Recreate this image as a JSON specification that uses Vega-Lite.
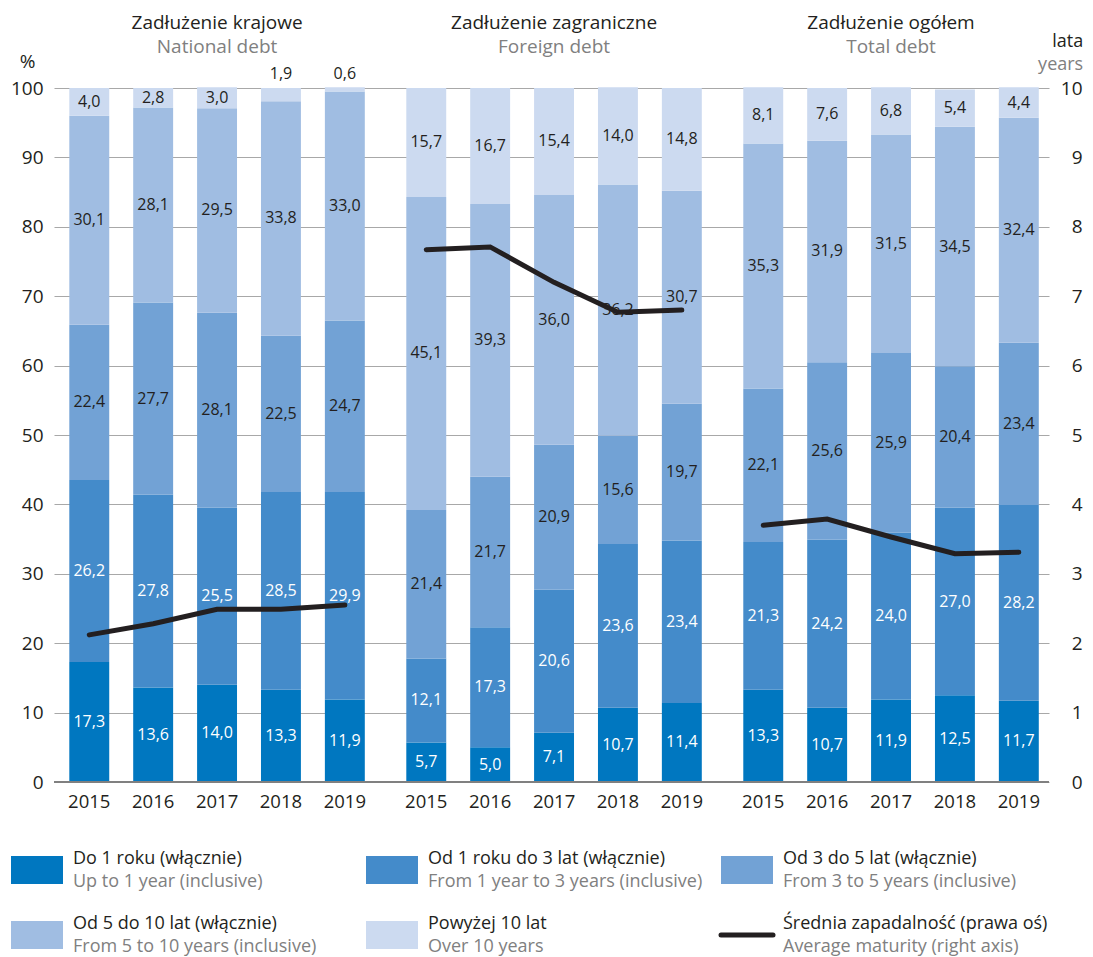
{
  "$schema": "https://vega.github.io/schema/vega-lite/v6.json",
  "background": "white",
  "padding": {"left": 10, "top": 14, "right": 5, "bottom": 5},
  "spacing": 37,
  "config": {
    "font": "Open Sans",
    "view": {"stroke": null},
    "locale": {"number": {"decimal": ",", "thousands": " ", "grouping": [3], "currency": ["", ""]}},
    "axis": {"labelFont": "Open Sans", "titleFont": "Open Sans"}
  },
  "datasets": {
    "bars": [
      {"group": "K", "year": "2015", "c1": 17.3, "c2": 26.2, "c3": 22.4, "c4": 30.1, "c5": 4.0, "m": 2.12},
      {"group": "K", "year": "2016", "c1": 13.6, "c2": 27.8, "c3": 27.7, "c4": 28.1, "c5": 2.8, "m": 2.28},
      {"group": "K", "year": "2017", "c1": 14.0, "c2": 25.5, "c3": 28.1, "c4": 29.5, "c5": 3.0, "m": 2.49},
      {"group": "K", "year": "2018", "c1": 13.3, "c2": 28.5, "c3": 22.5, "c4": 33.8, "c5": 1.9, "m": 2.49},
      {"group": "K", "year": "2019", "c1": 11.9, "c2": 29.9, "c3": 24.7, "c4": 33.0, "c5": 0.6, "m": 2.55},
      {"group": "Z", "year": "2015", "c1": 5.7, "c2": 12.1, "c3": 21.4, "c4": 45.1, "c5": 15.7, "m": 7.67},
      {"group": "Z", "year": "2016", "c1": 5.0, "c2": 17.3, "c3": 21.7, "c4": 39.3, "c5": 16.7, "m": 7.71},
      {"group": "Z", "year": "2017", "c1": 7.1, "c2": 20.6, "c3": 20.9, "c4": 36.0, "c5": 15.4, "m": 7.2},
      {"group": "Z", "year": "2018", "c1": 10.7, "c2": 23.6, "c3": 15.6, "c4": 36.2, "c5": 14.0, "m": 6.77},
      {"group": "Z", "year": "2019", "c1": 11.4, "c2": 23.4, "c3": 19.7, "c4": 30.7, "c5": 14.8, "m": 6.8},
      {"group": "O", "year": "2015", "c1": 13.3, "c2": 21.3, "c3": 22.1, "c4": 35.3, "c5": 8.1, "m": 3.7},
      {"group": "O", "year": "2016", "c1": 10.7, "c2": 24.2, "c3": 25.6, "c4": 31.9, "c5": 7.6, "m": 3.79},
      {"group": "O", "year": "2017", "c1": 11.9, "c2": 24.0, "c3": 25.9, "c4": 31.5, "c5": 6.8, "m": 3.53},
      {"group": "O", "year": "2018", "c1": 12.5, "c2": 27.0, "c3": 20.4, "c4": 34.5, "c5": 5.4, "m": 3.29},
      {"group": "O", "year": "2019", "c1": 11.7, "c2": 28.2, "c3": 23.4, "c4": 32.4, "c5": 4.4, "m": 3.31}
    ],
    "groups": [
      {"group": "K", "pl": "Zadłużenie krajowe", "en": "National debt"},
      {"group": "Z", "pl": "Zadłużenie zagraniczne", "en": "Foreign debt"},
      {"group": "O", "pl": "Zadłużenie ogółem", "en": "Total debt"}
    ],
    "legend": [
      {"k": "c1", "pl": "Do 1 roku (włącznie)", "en": "Up to 1 year (inclusive)"},
      {"k": "c2", "pl": "Od 1 roku do 3 lat (włącznie)", "en": "From 1 year to 3 years (inclusive)"},
      {"k": "c3", "pl": "Od 3 do 5 lat (włącznie)", "en": "From 3 to 5 years (inclusive)"},
      {"k": "c4", "pl": "Od 5 do 10 lat (włącznie)", "en": "From 5 to 10 years (inclusive)"},
      {"k": "c5", "pl": "Powyżej 10 lat", "en": "Over 10 years"},
      {"k": "avg", "pl": "Średnia zapadalność (prawa oś)", "en": "Average maturity (right axis)"}
    ]
  },
  "vconcat": [
    {
      "width": 995,
      "height": 694,
      "encoding": {
        "x": {"field": "group", "type": "nominal", "axis": null,
              "scale": {"type": "band", "domain": ["K", "Z", "O"], "paddingInner": 0.0852, "paddingOuter": 0.0189, "align": 0.7}}
      },
      "layer": [
        {
          "layer": [
            {
              "data": {"name": "bars"},
              "transform": [
                {"fold": ["c1", "c2", "c3", "c4", "c5"], "as": ["k", "value"]},
                {"stack": "value", "groupby": ["group", "year"], "sort": [{"field": "k"}], "as": ["y0", "y1"]},
                {"calculate": "(datum.y0 + datum.y1) / 2", "as": "ymid"}
              ],
              "layer": [
                {
                  "mark": {"type": "bar"},
                  "encoding": {
                    "xOffset": {"field": "year", "type": "nominal", "scale": {"paddingInner": 0.375, "paddingOuter": 0.1}},
                    "y": {"field": "y0", "type": "quantitative", "scale": {"domain": [0, 100], "nice": false},
                          "axis": {"values": [0, 10, 20, 30, 40, 50, 60, 70, 80, 90, 100], "grid": true, "gridColor": "#a8a8a8", "gridWidth": 1.2,
                                   "domain": false, "ticks": false, "labelFontSize": 19, "labelColor": "#231f20", "labelPadding": 11,
                                   "title": "%", "titleAngle": 0, "titleX": -27, "titleY": -27, "titleAlign": "center", "titleBaseline": "middle",
                                   "titleFontSize": 19, "titleFontWeight": "normal", "titleColor": "#231f20"}},
                    "y2": {"field": "y1"},
                    "color": {"field": "k", "type": "nominal", "legend": null,
                              "scale": {"domain": ["c1", "c2", "c3", "c4", "c5"], "range": ["#0077c0", "#448bca", "#72a2d5", "#a0bde2", "#ccdaf0"]}}
                  }
                },
                {
                  "transform": [{"filter": "datum.value >= 2.5"}],
                  "mark": {"type": "text", "fontSize": 16, "baseline": "middle"},
                  "encoding": {
                    "xOffset": {"field": "year", "type": "nominal"},
                    "y": {"field": "ymid", "type": "quantitative"},
                    "text": {"field": "value", "type": "quantitative", "format": ".1f"},
                    "color": {"condition": {"test": "datum.k == 'c1' || datum.k == 'c2'", "value": "#ffffff"}, "value": "#231f20"}
                  }
                },
                {
                  "transform": [{"filter": "datum.value < 2.5"}],
                  "mark": {"type": "text", "fontSize": 16, "baseline": "middle", "dy": -14, "color": "#231f20"},
                  "encoding": {
                    "xOffset": {"field": "year", "type": "nominal"},
                    "y": {"datum": 100},
                    "text": {"field": "value", "type": "quantitative", "format": ".1f"}
                  }
                },
                {
                  "transform": [{"filter": "datum.k == 'c1'"}],
                  "mark": {"type": "text", "fontSize": 18.5, "baseline": "middle", "dy": 20, "color": "#231f20"},
                  "encoding": {
                    "xOffset": {"field": "year", "type": "nominal"},
                    "y": {"datum": 0},
                    "text": {"field": "year", "type": "nominal"}
                  }
                }
              ]
            },
            {
              "data": {"values": [{}]},
              "mark": {"type": "rule", "color": "#808080", "strokeWidth": 2},
              "encoding": {"y": {"datum": 0}, "x": null}
            },
            {
              "data": {"name": "groups"},
              "layer": [
                {
                  "mark": {"type": "text", "fontSize": 19, "baseline": "middle", "dy": -65, "color": "#231f20"},
                  "encoding": {"y": {"datum": 100}, "text": {"field": "pl"}}
                },
                {
                  "mark": {"type": "text", "fontSize": 19, "baseline": "middle", "dy": -41, "color": "#808080"},
                  "encoding": {"y": {"datum": 100}, "text": {"field": "en"}}
                }
              ]
            },
            {
              "data": {"values": [{"group": "O", "pl": "lata", "en": "years"}]},
              "layer": [
                {
                  "mark": {"type": "text", "fontSize": 18, "baseline": "middle", "align": "right", "dx": 38, "dy": -46, "color": "#231f20"},
                  "encoding": {"x": {"field": "group", "type": "nominal", "bandPosition": 1}, "y": {"datum": 100}, "text": {"field": "pl"}}
                },
                {
                  "mark": {"type": "text", "fontSize": 18, "baseline": "middle", "align": "right", "dx": 38, "dy": -23, "color": "#808080"},
                  "encoding": {"x": {"field": "group", "type": "nominal", "bandPosition": 1}, "y": {"datum": 100}, "text": {"field": "en"}}
                }
              ]
            }
          ]
        },
        {
          "data": {"name": "bars"},
          "mark": {"type": "line", "color": "#231f20", "strokeWidth": 5, "strokeCap": "round"},
          "encoding": {
            "xOffset": {"field": "year", "type": "nominal"},
            "y": {"field": "m", "type": "quantitative", "scale": {"domain": [0, 10], "nice": false},
                  "axis": {"orient": "right", "values": [0, 1, 2, 3, 4, 5, 6, 7, 8, 9, 10], "grid": false, "domain": false, "ticks": false,
                           "labelFontSize": 19, "labelColor": "#231f20", "labelAlign": "right", "labelPadding": 33, "title": null}},
            "detail": {"field": "group"},
            "order": {"field": "year"}
          }
        }
      ],
      "resolve": {"scale": {"y": "independent"}}
    },
    {
      "width": 710,
      "height": 65,
      "data": {"name": "legend"},
      "transform": [
        {"window": [{"op": "row_number", "as": "n"}]},
        {"calculate": "(datum.n - 1) % 3", "as": "col"},
        {"calculate": "floor((datum.n - 1) / 3)", "as": "row"}
      ],
      "encoding": {
        "x": {"field": "col", "type": "ordinal", "scale": {"type": "point", "padding": 0}, "axis": null},
        "y": {"field": "row", "type": "ordinal", "scale": {"type": "point", "padding": 0}, "axis": null}
      },
      "layer": [
        {
          "transform": [{"filter": "datum.k != 'avg'"}],
          "mark": {"type": "point", "shape": "M-1,-0.54H1V0.54H-1Z", "size": 2704, "filled": true, "opacity": 1, "xOffset": -17},
          "encoding": {
            "color": {"field": "k", "type": "nominal", "legend": null,
                      "scale": {"domain": ["c1", "c2", "c3", "c4", "c5"], "range": ["#0077c0", "#448bca", "#72a2d5", "#a0bde2", "#ccdaf0"]}}
          }
        },
        {
          "transform": [{"filter": "datum.k == 'avg'"}],
          "mark": {"type": "point", "shape": "M-1,0H1", "size": 2704, "filled": false, "opacity": 1, "stroke": "#231f20", "strokeWidth": 5, "strokeCap": "round", "xOffset": -17}
        },
        {
          "mark": {"type": "text", "align": "left", "baseline": "middle", "dx": 19, "dy": -11.5, "fontSize": 18, "color": "#231f20"},
          "encoding": {"text": {"field": "pl"}}
        },
        {
          "mark": {"type": "text", "align": "left", "baseline": "middle", "dx": 19, "dy": 11.5, "fontSize": 18, "color": "#808080"},
          "encoding": {"text": {"field": "en"}}
        }
      ]
    }
  ]
}
